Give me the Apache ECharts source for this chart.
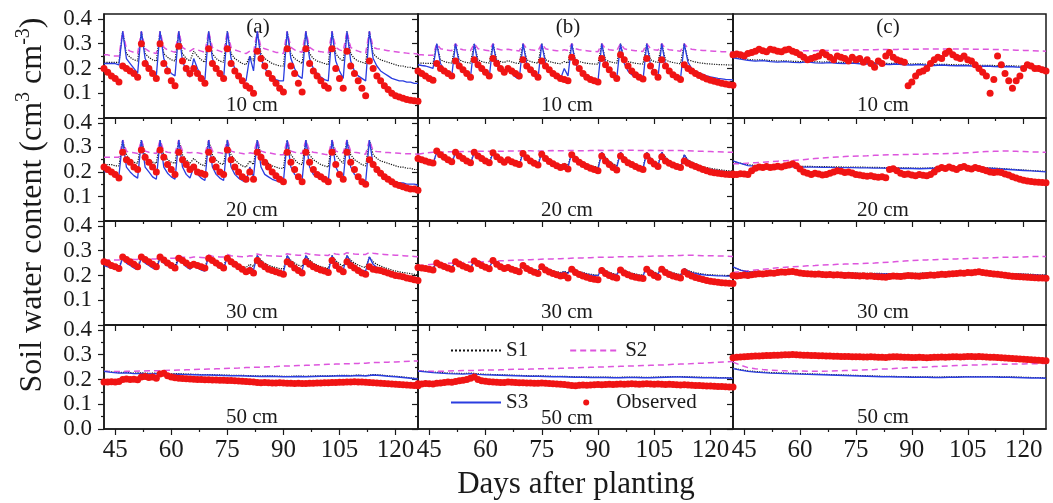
<!DOCTYPE html>
<html>
<head>
<meta charset="utf-8">
<script src="https://cdn.jsdelivr.net/npm/echarts@6/dist/echarts.min.js"></script>
<style>html,body{margin:0;padding:0;background:#fff}#chart{width:1053px;height:503px}</style>
</head>
<body>
<div id="chart"></div>
<script>
// ---------- x values (days after planting) ----------
const days = []; for (let d = 42; d <= 126; d++) days.push(d);      // daily
const days2 = []; for (let d = 42; d <= 126; d += 2) days2.push(d); // every 2nd day

// ---------- tick labels ----------
const xTickValues = [45, 60, 75, 90, 105, 120];
const xMinorValues = [52.5, 67.5, 82.5, 97.5, 112.5];
const yTickValues = [0, 0.1, 0.2, 0.3, 0.4];
const yMinorValues = [0.05, 0.15, 0.25, 0.35];
const depthLabels = ['10 cm', '20 cm', '30 cm', '50 cm'];
const panelLetters = ['(a)', '(b)', '(c)'];

// ================= (a) 10 cm =================
const a10_s1 = [
0.225,0.225,0.225,0.225,0.225,0.35,0.26,0.245,0.235,0.23,
0.35,0.26,0.245,0.235,0.23,0.35,0.26,0.245,0.235,0.23,
0.35,0.26,0.24,0.23,0.27,0.25,0.235,0.225,0.35,0.26,
0.24,0.23,0.225,0.35,0.26,0.24,0.23,0.22,0.215,0.25,
0.23,0.35,0.26,0.24,0.23,0.22,0.215,0.21,0.21,0.35,
0.26,0.24,0.23,0.22,0.35,0.26,0.24,0.23,0.225,0.22,
0.215,0.35,0.26,0.24,0.23,0.35,0.26,0.24,0.23,0.225,
0.22,0.35,0.26,0.245,0.235,0.23,0.225,0.22,0.215,0.21,
0.21,0.205,0.205,0.2,0.2];
const a10_s2 = [
0.255,0.255,0.25,0.25,0.25,0.35,0.28,0.27,0.265,0.26,
0.35,0.28,0.27,0.265,0.26,0.35,0.285,0.275,0.27,0.265,
0.35,0.285,0.275,0.27,0.28,0.275,0.27,0.265,0.35,0.285,
0.275,0.27,0.265,0.35,0.285,0.275,0.27,0.265,0.26,0.27,
0.265,0.35,0.285,0.28,0.275,0.27,0.265,0.265,0.26,0.35,
0.285,0.275,0.27,0.265,0.35,0.285,0.275,0.27,0.268,0.265,
0.262,0.35,0.285,0.275,0.27,0.35,0.285,0.275,0.27,0.265,
0.262,0.35,0.285,0.28,0.278,0.275,0.272,0.27,0.268,0.266,
0.264,0.262,0.26,0.26,0.258];
const a10_s3 = [
0.22,0.22,0.22,0.22,0.215,0.35,0.24,0.22,0.2,0.18,
0.35,0.24,0.21,0.19,0.17,0.35,0.24,0.2,0.18,0.17,
0.35,0.23,0.19,0.165,0.24,0.2,0.17,0.155,0.35,0.24,
0.2,0.17,0.16,0.35,0.24,0.2,0.17,0.155,0.15,0.25,
0.19,0.35,0.24,0.2,0.18,0.165,0.155,0.15,0.15,0.35,
0.24,0.2,0.17,0.16,0.35,0.24,0.2,0.18,0.165,0.155,
0.15,0.35,0.23,0.19,0.16,0.35,0.23,0.19,0.17,0.16,
0.15,0.35,0.24,0.21,0.19,0.18,0.17,0.16,0.155,0.15,
0.15,0.145,0.145,0.14,0.14];
const a10_obs = [
0.2,0.185,0.17,0.16,0.145,0.21,0.2,0.19,0.18,0.165,
0.3,0.22,0.2,0.18,0.16,0.3,0.22,0.19,0.15,0.13,
0.29,0.23,0.2,0.18,0.2,0.18,0.16,0.14,0.28,0.22,
0.2,0.18,0.16,0.28,0.22,0.19,0.17,0.15,0.13,0.12,
0.1,0.27,0.24,0.21,0.18,0.16,0.14,0.12,0.105,0.28,
0.21,0.18,0.14,0.105,0.28,0.22,0.19,0.17,0.15,0.13,
0.12,0.28,0.2,0.16,0.12,0.27,0.21,0.18,0.15,0.12,
0.09,0.23,0.2,0.17,0.15,0.13,0.115,0.1,0.09,0.085,
0.08,0.075,0.072,0.07,0.068];

// ================= (a) 20 cm =================
const a20_s1 = [
0.23,0.23,0.23,0.225,0.225,0.33,0.27,0.25,0.24,0.235,
0.33,0.27,0.25,0.24,0.235,0.33,0.27,0.25,0.24,0.235,
0.33,0.27,0.25,0.235,0.255,0.24,0.23,0.225,0.33,0.27,
0.25,0.235,0.23,0.33,0.27,0.25,0.235,0.225,0.22,0.245,
0.23,0.33,0.27,0.25,0.235,0.225,0.22,0.215,0.215,0.33,
0.27,0.25,0.235,0.23,0.33,0.27,0.25,0.24,0.23,0.225,
0.22,0.33,0.27,0.25,0.235,0.33,0.27,0.25,0.24,0.23,
0.225,0.33,0.27,0.255,0.245,0.24,0.235,0.23,0.225,0.22,
0.22,0.215,0.215,0.21,0.21];
const a20_s2 = [
0.26,0.26,0.26,0.26,0.26,0.33,0.285,0.28,0.278,0.275,
0.33,0.285,0.28,0.278,0.275,0.33,0.285,0.28,0.278,0.275,
0.33,0.285,0.28,0.278,0.28,0.278,0.275,0.272,0.33,0.285,
0.28,0.278,0.275,0.33,0.285,0.28,0.278,0.275,0.272,0.278,
0.275,0.33,0.285,0.28,0.278,0.275,0.272,0.27,0.27,0.33,
0.285,0.28,0.278,0.275,0.33,0.285,0.28,0.278,0.275,0.272,
0.27,0.33,0.285,0.28,0.278,0.33,0.285,0.28,0.278,0.275,
0.272,0.33,0.285,0.283,0.282,0.28,0.279,0.278,0.277,0.276,
0.275,0.274,0.274,0.273,0.272];
const a20_s3 = [
0.2,0.2,0.195,0.19,0.185,0.33,0.22,0.2,0.185,0.175,
0.33,0.22,0.2,0.18,0.17,0.33,0.22,0.195,0.18,0.17,
0.33,0.22,0.19,0.175,0.22,0.19,0.175,0.165,0.33,0.22,
0.19,0.175,0.165,0.33,0.22,0.19,0.175,0.165,0.16,0.22,
0.18,0.33,0.22,0.19,0.18,0.17,0.165,0.16,0.16,0.33,
0.22,0.19,0.175,0.165,0.33,0.22,0.19,0.18,0.17,0.165,
0.16,0.33,0.22,0.19,0.17,0.33,0.22,0.19,0.175,0.165,
0.16,0.33,0.23,0.2,0.19,0.18,0.17,0.165,0.16,0.155,
0.155,0.15,0.15,0.15,0.145];
const a20_obs = [
0.22,0.21,0.2,0.19,0.175,0.28,0.25,0.24,0.22,0.21,
0.29,0.26,0.24,0.22,0.2,0.29,0.26,0.23,0.21,0.19,
0.28,0.25,0.23,0.21,0.22,0.2,0.195,0.19,0.28,0.25,
0.22,0.2,0.19,0.29,0.25,0.22,0.2,0.18,0.17,0.2,
0.17,0.28,0.26,0.24,0.22,0.2,0.185,0.17,0.16,0.28,
0.24,0.21,0.18,0.16,0.28,0.24,0.21,0.19,0.18,0.17,
0.16,0.28,0.23,0.19,0.17,0.28,0.24,0.21,0.18,0.16,
0.15,0.25,0.23,0.21,0.195,0.18,0.17,0.16,0.15,0.145,
0.14,0.135,0.13,0.13,0.125];

// ================= (a) 30 cm =================
const a30_s1 = [
0.245,0.24,0.238,0.235,0.232,0.275,0.26,0.25,0.243,0.238,
0.275,0.26,0.25,0.243,0.238,0.275,0.26,0.25,0.243,0.238,
0.275,0.26,0.248,0.24,0.25,0.243,0.237,0.233,0.28,0.262,
0.25,0.242,0.236,0.28,0.262,0.25,0.242,0.236,0.232,0.245,
0.236,0.28,0.262,0.25,0.242,0.236,0.232,0.228,0.226,0.28,
0.262,0.25,0.242,0.236,0.28,0.262,0.25,0.242,0.236,0.232,
0.228,0.28,0.26,0.247,0.237,0.28,0.262,0.25,0.242,0.236,
0.232,0.275,0.255,0.245,0.238,0.232,0.227,0.222,0.218,0.215,
0.212,0.21,0.207,0.205,0.203];
const a30_s2 = [
0.262,0.262,0.262,0.262,0.262,0.275,0.268,0.266,0.265,0.265,
0.275,0.27,0.268,0.267,0.267,0.278,0.272,0.27,0.27,0.27,
0.28,0.275,0.273,0.272,0.275,0.274,0.273,0.272,0.283,0.278,
0.276,0.275,0.275,0.285,0.28,0.278,0.277,0.276,0.276,0.28,
0.278,0.287,0.283,0.281,0.28,0.279,0.279,0.278,0.278,0.288,
0.285,0.283,0.282,0.281,0.29,0.286,0.284,0.283,0.282,0.282,
0.281,0.29,0.287,0.285,0.284,0.292,0.289,0.287,0.286,0.285,
0.285,0.293,0.29,0.288,0.286,0.285,0.284,0.283,0.282,0.281,
0.28,0.279,0.278,0.277,0.276];
const a30_s3 = [
0.24,0.235,0.23,0.228,0.225,0.27,0.25,0.24,0.23,0.225,
0.27,0.25,0.24,0.23,0.225,0.27,0.25,0.24,0.23,0.225,
0.27,0.25,0.235,0.225,0.24,0.23,0.222,0.218,0.28,0.255,
0.24,0.23,0.222,0.28,0.255,0.24,0.23,0.222,0.218,0.235,
0.222,0.28,0.255,0.24,0.23,0.222,0.218,0.214,0.212,0.28,
0.255,0.24,0.228,0.22,0.28,0.255,0.24,0.23,0.222,0.218,
0.214,0.28,0.25,0.235,0.222,0.28,0.255,0.24,0.23,0.222,
0.218,0.275,0.245,0.232,0.225,0.218,0.212,0.208,0.205,0.202,
0.2,0.197,0.195,0.192,0.19];
const a30_obs = [
0.255,0.25,0.24,0.235,0.228,0.275,0.265,0.255,0.245,0.235,
0.275,0.265,0.255,0.245,0.235,0.275,0.262,0.25,0.24,0.23,
0.27,0.26,0.25,0.24,0.245,0.24,0.235,0.23,0.27,0.26,
0.25,0.24,0.23,0.27,0.255,0.245,0.235,0.225,0.215,0.22,
0.21,0.26,0.245,0.235,0.225,0.22,0.215,0.21,0.205,0.255,
0.245,0.23,0.22,0.21,0.255,0.245,0.235,0.228,0.222,0.218,
0.212,0.26,0.24,0.225,0.215,0.255,0.24,0.23,0.22,0.21,
0.205,0.235,0.225,0.222,0.22,0.215,0.21,0.205,0.2,0.198,
0.195,0.19,0.187,0.183,0.18];

// ================= (a) 50 cm =================
const a50_s1 = [
0.235,0.231,0.228,0.229,0.226,0.227,0.225,0.226,0.224,0.223,
0.224,0.222,0.221,0.22,0.22,0.219,0.218,0.217,0.217,0.216,
0.215,0.214,0.215,0.214,0.213,0.213,0.214,0.213,0.214,0.215,
0.215,0.216,0.217,0.216,0.218,0.216,0.22,0.218,0.215,0.213,
0.21,0.207,0.204];
const a50_s2 = [
0.233,0.232,0.232,0.233,0.233,0.234,0.235,0.235,0.236,0.237,
0.238,0.239,0.24,0.241,0.242,0.243,0.244,0.245,0.246,0.248,
0.249,0.25,0.251,0.252,0.254,0.255,0.256,0.257,0.258,0.26,
0.261,0.262,0.263,0.264,0.265,0.266,0.268,0.269,0.27,0.271,
0.272,0.274,0.275];
const a50_s3 = [
0.233,0.229,0.226,0.227,0.224,0.225,0.223,0.224,0.222,0.221,
0.222,0.22,0.219,0.218,0.218,0.217,0.216,0.215,0.215,0.214,
0.213,0.212,0.213,0.212,0.211,0.211,0.212,0.211,0.212,0.213,
0.213,0.214,0.215,0.214,0.216,0.214,0.218,0.216,0.213,0.211,
0.208,0.205,0.202];
const a50_obs = [
0.19,0.19,0.191,0.19,0.192,0.2,0.202,0.2,0.201,0.199,
0.21,0.212,0.208,0.21,0.205,0.222,0.225,0.215,0.21,0.207,
0.205,0.204,0.203,0.202,0.201,0.2,0.2,0.199,0.199,0.198,
0.198,0.197,0.197,0.196,0.196,0.195,0.194,0.193,0.192,0.191,
0.19,0.188,0.187,0.188,0.187,0.186,0.186,0.187,0.186,0.185,
0.185,0.184,0.185,0.184,0.184,0.185,0.185,0.186,0.186,0.187,
0.187,0.188,0.188,0.189,0.189,0.19,0.19,0.191,0.19,0.19,
0.189,0.188,0.187,0.186,0.185,0.184,0.183,0.182,0.181,0.18,
0.179,0.178,0.177,0.176,0.175];

// ================= (b) 10 cm =================
const b10_s1 = [
0.222,0.222,0.221,0.221,0.22,0.3,0.235,0.228,0.224,0.222,
0.3,0.235,0.228,0.224,0.222,0.3,0.235,0.228,0.224,0.222,
0.3,0.235,0.228,0.224,0.232,0.226,0.222,0.22,0.3,0.235,
0.228,0.224,0.221,0.3,0.235,0.228,0.224,0.221,0.219,0.228,
0.222,0.3,0.235,0.228,0.224,0.221,0.219,0.218,0.217,0.3,
0.235,0.228,0.224,0.221,0.3,0.235,0.228,0.224,0.221,0.219,
0.218,0.3,0.235,0.228,0.224,0.3,0.235,0.228,0.224,0.221,
0.219,0.3,0.235,0.23,0.226,0.223,0.221,0.219,0.218,0.217,
0.216,0.215,0.215,0.214,0.214];
const b10_s2 = [
0.255,0.255,0.254,0.253,0.253,0.3,0.28,0.276,0.274,0.272,
0.3,0.28,0.276,0.274,0.272,0.3,0.28,0.276,0.274,0.272,
0.3,0.28,0.276,0.274,0.278,0.275,0.273,0.271,0.3,0.28,
0.276,0.274,0.272,0.3,0.28,0.276,0.274,0.272,0.27,0.276,
0.273,0.3,0.28,0.276,0.274,0.272,0.27,0.269,0.268,0.3,
0.28,0.276,0.274,0.272,0.3,0.28,0.276,0.274,0.272,0.27,
0.269,0.3,0.28,0.276,0.274,0.3,0.28,0.276,0.274,0.272,
0.27,0.3,0.282,0.278,0.276,0.274,0.273,0.272,0.271,0.27,
0.269,0.268,0.268,0.267,0.266];
const b10_s3 = [
0.215,0.212,0.21,0.205,0.2,0.3,0.22,0.195,0.18,0.17,
0.3,0.22,0.195,0.175,0.165,0.3,0.22,0.19,0.175,0.165,
0.3,0.22,0.19,0.175,0.2,0.18,0.165,0.158,0.3,0.22,
0.19,0.17,0.16,0.3,0.22,0.19,0.175,0.165,0.158,0.2,
0.17,0.3,0.22,0.19,0.175,0.165,0.158,0.153,0.15,0.3,
0.22,0.19,0.17,0.16,0.3,0.22,0.19,0.175,0.165,0.158,
0.153,0.3,0.215,0.185,0.165,0.3,0.215,0.19,0.175,0.165,
0.158,0.3,0.225,0.2,0.19,0.182,0.176,0.17,0.166,0.163,
0.16,0.158,0.156,0.155,0.154];
const b10_obs = [
0.19,0.18,0.17,0.16,0.152,0.22,0.2,0.19,0.18,0.17,
0.23,0.21,0.195,0.18,0.165,0.235,0.215,0.2,0.185,0.17,
0.24,0.22,0.2,0.185,0.2,0.19,0.18,0.17,0.235,0.21,
0.195,0.18,0.165,0.23,0.21,0.195,0.18,0.17,0.16,0.155,
0.15,0.245,0.225,0.2,0.18,0.165,0.155,0.15,0.145,0.24,
0.215,0.195,0.175,0.16,0.255,0.235,0.21,0.19,0.175,0.165,
0.158,0.24,0.21,0.185,0.165,0.235,0.21,0.19,0.175,0.165,
0.155,0.215,0.2,0.19,0.18,0.172,0.165,0.158,0.152,0.148,
0.144,0.14,0.137,0.134,0.132];

// ================= (b) 20 cm =================
const b20_s1 = [
0.25,0.247,0.244,0.241,0.238,0.28,0.265,0.255,0.247,0.24,
0.28,0.265,0.255,0.247,0.24,0.28,0.265,0.255,0.247,0.24,
0.28,0.264,0.252,0.243,0.25,0.243,0.237,0.233,0.28,0.262,
0.25,0.24,0.233,0.28,0.262,0.25,0.24,0.232,0.227,0.235,
0.227,0.28,0.262,0.25,0.24,0.232,0.227,0.222,0.219,0.28,
0.26,0.245,0.234,0.226,0.28,0.26,0.246,0.236,0.229,0.224,
0.22,0.28,0.257,0.242,0.231,0.28,0.26,0.246,0.236,0.229,
0.224,0.27,0.25,0.24,0.233,0.227,0.222,0.218,0.215,0.212,
0.21,0.208,0.206,0.205,0.204];
const b20_s2 = [
0.272,0.278,0.28,0.28,0.282,0.282,0.283,0.283,0.284,0.284,
0.285,0.284,0.285,0.285,0.286,0.286,0.285,0.286,0.287,0.286,
0.287,0.287,0.286,0.287,0.288,0.287,0.288,0.287,0.288,0.288,
0.287,0.288,0.287,0.288,0.287,0.287,0.286,0.285,0.284,0.283,
0.282,0.281,0.28];
const b20_s3 = [
0.245,0.242,0.238,0.235,0.232,0.28,0.262,0.25,0.24,0.232,
0.28,0.262,0.25,0.24,0.232,0.28,0.262,0.25,0.24,0.232,
0.28,0.26,0.246,0.236,0.245,0.236,0.23,0.225,0.28,0.258,
0.243,0.232,0.225,0.28,0.258,0.243,0.232,0.224,0.218,0.23,
0.218,0.28,0.258,0.243,0.232,0.224,0.218,0.213,0.21,0.28,
0.255,0.238,0.226,0.218,0.28,0.255,0.24,0.23,0.222,0.216,
0.212,0.28,0.252,0.236,0.224,0.28,0.255,0.24,0.23,0.222,
0.216,0.27,0.245,0.235,0.228,0.222,0.217,0.213,0.21,0.207,
0.205,0.203,0.201,0.2,0.199];
const b20_obs = [
0.255,0.25,0.245,0.24,0.236,0.285,0.27,0.26,0.25,0.242,
0.28,0.265,0.255,0.245,0.238,0.28,0.265,0.255,0.245,0.238,
0.278,0.262,0.25,0.24,0.25,0.242,0.235,0.23,0.275,0.258,
0.245,0.235,0.228,0.272,0.255,0.243,0.233,0.225,0.218,0.222,
0.212,0.27,0.252,0.24,0.23,0.222,0.215,0.21,0.205,0.265,
0.245,0.23,0.218,0.208,0.265,0.25,0.238,0.23,0.222,0.215,
0.21,0.265,0.245,0.232,0.222,0.262,0.245,0.235,0.228,0.222,
0.218,0.245,0.235,0.228,0.222,0.216,0.21,0.205,0.2,0.197,
0.195,0.193,0.191,0.19,0.189];

// ================= (b) 30 cm =================
const b30_s1 = [
0.237,0.235,0.233,0.231,0.229,0.255,0.247,0.24,0.235,0.231,
0.258,0.25,0.242,0.236,0.232,0.26,0.252,0.244,0.238,0.233,
0.26,0.25,0.24,0.234,0.237,0.232,0.228,0.224,0.245,0.235,
0.228,0.224,0.22,0.242,0.232,0.225,0.219,0.215,0.212,0.217,
0.211,0.235,0.224,0.217,0.212,0.208,0.205,0.203,0.201,0.232,
0.22,0.213,0.208,0.204,0.232,0.222,0.215,0.21,0.206,0.203,
0.201,0.235,0.222,0.214,0.208,0.235,0.224,0.217,0.211,0.207,
0.203,0.228,0.22,0.215,0.211,0.208,0.206,0.204,0.203,0.202,
0.201,0.201,0.2,0.2,0.2];
const b30_s2 = [
0.24,0.242,0.245,0.247,0.249,0.251,0.252,0.254,0.255,0.256,
0.258,0.259,0.26,0.262,0.262,0.264,0.265,0.267,0.267,0.268,
0.269,0.271,0.271,0.272,0.274,0.274,0.274,0.276,0.276,0.276,
0.277,0.278,0.279,0.279,0.28,0.281,0.282,0.281,0.28,0.28,
0.279,0.278,0.277];
const b30_s3 = [
0.235,0.233,0.231,0.229,0.227,0.255,0.245,0.238,0.233,0.229,
0.258,0.248,0.24,0.234,0.229,0.26,0.25,0.242,0.236,0.231,
0.26,0.248,0.238,0.231,0.235,0.229,0.225,0.221,0.245,0.233,
0.226,0.221,0.217,0.242,0.23,0.222,0.216,0.212,0.209,0.215,
0.208,0.235,0.222,0.214,0.209,0.205,0.202,0.2,0.198,0.232,
0.218,0.21,0.205,0.201,0.232,0.22,0.212,0.207,0.203,0.2,
0.198,0.235,0.22,0.211,0.205,0.235,0.222,0.214,0.208,0.204,
0.2,0.228,0.218,0.212,0.208,0.205,0.203,0.201,0.2,0.199,
0.198,0.198,0.197,0.197,0.196];
const b30_obs = [
0.232,0.23,0.228,0.225,0.222,0.25,0.242,0.236,0.23,0.225,
0.255,0.246,0.238,0.232,0.226,0.258,0.248,0.24,0.233,0.227,
0.26,0.245,0.235,0.228,0.232,0.225,0.22,0.215,0.24,0.228,
0.22,0.213,0.208,0.235,0.222,0.214,0.208,0.203,0.198,0.2,
0.19,0.225,0.212,0.204,0.198,0.193,0.188,0.185,0.183,0.22,
0.208,0.2,0.194,0.19,0.222,0.21,0.203,0.197,0.193,0.19,
0.188,0.225,0.21,0.2,0.193,0.225,0.212,0.204,0.198,0.194,
0.19,0.215,0.205,0.198,0.192,0.188,0.184,0.18,0.177,0.175,
0.173,0.171,0.17,0.169,0.168];

// ================= (b) 50 cm =================
const b50_s1 = [
0.236,0.233,0.23,0.228,0.226,0.225,0.224,0.226,0.223,0.221,
0.22,0.219,0.218,0.217,0.216,0.215,0.215,0.214,0.213,0.213,
0.212,0.211,0.211,0.21,0.21,0.21,0.209,0.209,0.21,0.21,
0.209,0.209,0.21,0.211,0.212,0.212,0.211,0.21,0.209,0.209,
0.208,0.208,0.207];
const b50_s2 = [
0.234,0.233,0.233,0.233,0.234,0.235,0.236,0.236,0.237,0.238,
0.238,0.239,0.24,0.241,0.241,0.242,0.243,0.244,0.244,0.245,
0.246,0.247,0.248,0.249,0.25,0.251,0.252,0.253,0.254,0.255,
0.256,0.257,0.258,0.259,0.261,0.262,0.263,0.265,0.266,0.268,
0.27,0.271,0.273];
const b50_s3 = [
0.234,0.231,0.228,0.226,0.224,0.223,0.222,0.224,0.221,0.219,
0.218,0.217,0.216,0.215,0.214,0.213,0.213,0.212,0.211,0.211,
0.21,0.209,0.209,0.208,0.208,0.208,0.207,0.207,0.208,0.208,
0.207,0.207,0.208,0.209,0.21,0.21,0.209,0.208,0.207,0.207,
0.206,0.206,0.205];
const b50_obs = [
0.183,0.182,0.184,0.183,0.182,0.185,0.186,0.188,0.19,0.189,
0.192,0.195,0.197,0.2,0.205,0.21,0.2,0.195,0.193,0.191,
0.19,0.189,0.188,0.188,0.19,0.189,0.188,0.187,0.187,0.186,
0.186,0.185,0.185,0.186,0.185,0.184,0.183,0.182,0.181,0.18,
0.178,0.176,0.175,0.177,0.178,0.177,0.178,0.179,0.18,0.179,
0.18,0.181,0.18,0.181,0.182,0.181,0.182,0.183,0.182,0.181,
0.182,0.183,0.182,0.181,0.182,0.181,0.18,0.181,0.18,0.179,
0.178,0.179,0.178,0.177,0.176,0.176,0.175,0.174,0.174,0.173,
0.172,0.172,0.171,0.17,0.17];

// ================= (c) 10 cm =================
const c10_s1 = [
0.246,0.241,0.237,0.234,0.235,0.232,0.23,0.231,0.229,0.228,
0.23,0.227,0.226,0.227,0.225,0.224,0.225,0.223,0.222,0.223,
0.221,0.22,0.221,0.219,0.218,0.219,0.217,0.216,0.217,0.216,
0.215,0.215,0.214,0.213,0.213,0.212,0.211,0.211,0.21,0.209,
0.207,0.205,0.203];
const c10_s2 = [
0.256,0.26,0.263,0.265,0.267,0.268,0.269,0.27,0.271,0.271,
0.272,0.272,0.273,0.273,0.274,0.274,0.275,0.275,0.276,0.276,
0.277,0.277,0.277,0.278,0.278,0.278,0.279,0.279,0.279,0.279,
0.279,0.279,0.278,0.278,0.278,0.277,0.276,0.275,0.274,0.273,
0.272,0.271,0.27];
const c10_s3 = [
0.243,0.238,0.233,0.23,0.232,0.228,0.226,0.228,0.225,0.224,
0.227,0.223,0.222,0.224,0.221,0.22,0.222,0.219,0.218,0.22,
0.217,0.216,0.218,0.215,0.214,0.216,0.213,0.212,0.214,0.212,
0.211,0.212,0.21,0.209,0.21,0.208,0.207,0.208,0.206,0.205,
0.204,0.202,0.2];
const c10_obs = [
0.255,0.258,0.255,0.25,0.26,0.265,0.27,0.278,0.272,0.268,
0.278,0.275,0.27,0.268,0.275,0.278,0.27,0.265,0.255,0.245,
0.235,0.24,0.245,0.25,0.265,0.255,0.245,0.235,0.25,0.245,
0.24,0.23,0.245,0.235,0.24,0.225,0.235,0.22,0.205,0.23,
0.22,0.25,0.265,0.245,0.235,0.23,0.225,0.13,0.145,0.17,
0.185,0.19,0.2,0.22,0.235,0.245,0.24,0.26,0.27,0.255,
0.245,0.24,0.25,0.235,0.23,0.215,0.2,0.185,0.17,0.1,
0.155,0.25,0.215,0.18,0.15,0.12,0.15,0.17,0.2,0.215,
0.21,0.2,0.2,0.195,0.19];

// ================= (c) 20 cm =================
const c20_s1 = [
0.242,0.236,0.229,0.227,0.226,0.225,0.225,0.224,0.224,0.223,
0.223,0.222,0.222,0.221,0.221,0.22,0.22,0.22,0.219,0.219,
0.218,0.218,0.217,0.217,0.216,0.216,0.216,0.217,0.218,0.218,
0.219,0.219,0.219,0.218,0.217,0.216,0.214,0.212,0.21,0.208,
0.206,0.204,0.202];
const c20_s2 = [
0.233,0.234,0.236,0.238,0.24,0.242,0.244,0.246,0.247,0.249,
0.252,0.255,0.257,0.259,0.261,0.263,0.264,0.265,0.266,0.268,
0.269,0.27,0.27,0.271,0.272,0.272,0.273,0.274,0.274,0.275,
0.276,0.277,0.279,0.281,0.283,0.284,0.285,0.285,0.284,0.283,
0.282,0.281,0.28];
const c20_s3 = [
0.245,0.235,0.226,0.224,0.223,0.222,0.222,0.221,0.221,0.22,
0.22,0.22,0.219,0.219,0.218,0.218,0.218,0.217,0.217,0.216,
0.216,0.215,0.215,0.214,0.214,0.213,0.214,0.215,0.216,0.216,
0.217,0.218,0.217,0.216,0.215,0.214,0.212,0.21,0.208,0.206,
0.204,0.202,0.2];
const c20_obs = [
0.192,0.19,0.193,0.192,0.19,0.205,0.215,0.22,0.218,0.222,
0.218,0.22,0.223,0.22,0.225,0.228,0.233,0.225,0.212,0.2,
0.195,0.19,0.195,0.192,0.188,0.19,0.195,0.2,0.205,0.203,
0.198,0.2,0.196,0.19,0.188,0.185,0.182,0.185,0.18,0.178,
0.18,0.176,0.21,0.213,0.205,0.195,0.19,0.192,0.188,0.185,
0.19,0.187,0.185,0.19,0.2,0.212,0.218,0.214,0.22,0.215,
0.21,0.218,0.222,0.215,0.212,0.218,0.214,0.21,0.205,0.2,
0.198,0.2,0.198,0.192,0.188,0.18,0.175,0.17,0.166,0.163,
0.161,0.159,0.158,0.157,0.156];

// ================= (c) 30 cm =================
const c30_s1 = [
0.232,0.222,0.216,0.214,0.213,0.214,0.213,0.214,0.213,0.213,
0.212,0.212,0.211,0.211,0.21,0.21,0.21,0.209,0.209,0.209,
0.208,0.208,0.208,0.208,0.209,0.209,0.21,0.21,0.211,0.211,
0.212,0.212,0.211,0.212,0.211,0.21,0.209,0.208,0.207,0.206,
0.205,0.203,0.202];
const c30_s2 = [
0.212,0.216,0.219,0.222,0.225,0.228,0.231,0.233,0.235,0.237,
0.239,0.24,0.242,0.243,0.245,0.246,0.247,0.248,0.249,0.25,
0.252,0.254,0.256,0.258,0.26,0.262,0.263,0.264,0.265,0.266,
0.267,0.268,0.269,0.27,0.271,0.272,0.273,0.274,0.274,0.275,
0.276,0.277,0.277];
const c30_s3 = [
0.235,0.222,0.214,0.212,0.211,0.212,0.211,0.213,0.212,0.211,
0.21,0.21,0.209,0.209,0.208,0.208,0.208,0.207,0.207,0.207,
0.206,0.206,0.206,0.206,0.207,0.207,0.208,0.208,0.209,0.209,
0.21,0.21,0.209,0.21,0.209,0.208,0.207,0.206,0.205,0.204,
0.203,0.201,0.2];
const c30_obs = [
0.2,0.198,0.2,0.202,0.2,0.203,0.205,0.207,0.206,0.208,
0.21,0.209,0.212,0.214,0.213,0.215,0.216,0.213,0.21,0.208,
0.207,0.206,0.205,0.206,0.204,0.203,0.204,0.202,0.203,0.202,
0.2,0.201,0.2,0.199,0.198,0.199,0.197,0.198,0.196,0.195,
0.194,0.193,0.196,0.198,0.197,0.196,0.198,0.2,0.199,0.198,
0.197,0.199,0.2,0.202,0.201,0.203,0.205,0.204,0.206,0.207,
0.208,0.21,0.209,0.212,0.211,0.213,0.215,0.212,0.21,0.208,
0.206,0.205,0.203,0.201,0.199,0.197,0.196,0.195,0.194,0.193,
0.192,0.191,0.19,0.19,0.189];

// ================= (c) 50 cm =================
const c50_s1 = [
0.246,0.24,0.235,0.232,0.23,0.228,0.227,0.226,0.225,0.224,
0.223,0.222,0.221,0.22,0.219,0.218,0.217,0.216,0.215,0.214,
0.213,0.213,0.212,0.212,0.211,0.211,0.211,0.21,0.21,0.211,
0.211,0.212,0.212,0.212,0.212,0.212,0.211,0.211,0.21,0.209,
0.208,0.208,0.207];
const c50_s2 = [
0.27,0.258,0.248,0.243,0.24,0.238,0.236,0.235,0.234,0.234,
0.233,0.233,0.233,0.234,0.235,0.236,0.237,0.238,0.239,0.24,
0.242,0.243,0.245,0.246,0.248,0.249,0.25,0.252,0.253,0.255,
0.256,0.257,0.258,0.259,0.26,0.261,0.261,0.262,0.263,0.263,
0.264,0.264,0.265];
const c50_s3 = [
0.244,0.238,0.233,0.23,0.228,0.226,0.225,0.224,0.223,0.222,
0.221,0.22,0.219,0.218,0.217,0.216,0.215,0.214,0.213,0.212,
0.211,0.211,0.21,0.21,0.209,0.209,0.209,0.208,0.208,0.209,
0.209,0.21,0.21,0.21,0.21,0.21,0.209,0.209,0.208,0.207,
0.206,0.206,0.205];
const c50_obs = [
0.288,0.29,0.291,0.292,0.293,0.294,0.295,0.295,0.296,0.297,
0.297,0.298,0.298,0.299,0.3,0.3,0.301,0.3,0.299,0.298,
0.298,0.297,0.297,0.296,0.296,0.295,0.295,0.294,0.294,0.293,
0.293,0.293,0.292,0.292,0.292,0.291,0.291,0.292,0.291,0.29,
0.29,0.289,0.291,0.292,0.292,0.291,0.29,0.29,0.289,0.289,
0.29,0.289,0.288,0.289,0.29,0.29,0.291,0.29,0.291,0.292,
0.292,0.291,0.292,0.293,0.293,0.292,0.293,0.292,0.291,0.29,
0.29,0.289,0.288,0.287,0.286,0.285,0.284,0.283,0.282,0.281,
0.28,0.279,0.278,0.277,0.276];

// ---------- panel table (row, col) ----------
const panels = [
  {row:0,col:0,s1:a10_s1,s2:a10_s2,s3:a10_s3,obs:a10_obs},
  {row:0,col:1,s1:b10_s1,s2:b10_s2,s3:b10_s3,obs:b10_obs},
  {row:0,col:2,s1:c10_s1,s2:c10_s2,s3:c10_s3,obs:c10_obs},
  {row:1,col:0,s1:a20_s1,s2:a20_s2,s3:a20_s3,obs:a20_obs},
  {row:1,col:1,s1:b20_s1,s2:b20_s2,s3:b20_s3,obs:b20_obs},
  {row:1,col:2,s1:c20_s1,s2:c20_s2,s3:c20_s3,obs:c20_obs},
  {row:2,col:0,s1:a30_s1,s2:a30_s2,s3:a30_s3,obs:a30_obs},
  {row:2,col:1,s1:b30_s1,s2:b30_s2,s3:b30_s3,obs:b30_obs},
  {row:2,col:2,s1:c30_s1,s2:c30_s2,s3:c30_s3,obs:c30_obs},
  {row:3,col:0,s1:a50_s1,s2:a50_s2,s3:a50_s3,obs:a50_obs},
  {row:3,col:1,s1:b50_s1,s2:b50_s2,s3:b50_s3,obs:b50_obs},
  {row:3,col:2,s1:c50_s1,s2:c50_s2,s3:c50_s3,obs:c50_obs}
];

function pairs(vals) {
  const xs = vals.length === days.length ? days : days2;
  if (vals.length !== days.length && vals.length !== days2.length) console.error('bad length', vals.length);
  return vals.map((v, i) => [xs[i], v]);
}

// ---------- layout / style ----------
const FONT = 'Liberation Serif';
const INK = '#1a1a1a';
const colLeft = [104, 418, 733], colWidth = [314, 315, 313];
const rowTop = [14, 118, 221, 325], rowHeight = [104, 103, 104, 104];
const depthX = [252, 567, 883], depthY = [105, 210, 312, 417];
const letterX = [258, 568, 888];

const grids = [], xAxes = [], yAxes = [], series = [], graphics = [];

panels.forEach((p, g) => {
  grids.push({
    left: colLeft[p.col], top: rowTop[p.row], width: colWidth[p.col], height: rowHeight[p.row],
    show: true, borderColor: INK, borderWidth: 1.5, backgroundColor: 'transparent',
    containLabel: false, outerBoundsMode: 'none'
  });
  const bottomRow = p.row === 3, firstCol = p.col === 0;
  xAxes.push({
    type: 'value', gridIndex: g, min: 42, max: 126, position: 'bottom',
    axisLine: {show: true, onZero: false, lineStyle: {color: INK, width: 1.5}},
    axisTick: {show: true, inside: false, length: 6, customValues: xTickValues, lineStyle: {color: INK, width: 1.2}},
    axisLabel: {show: bottomRow, customValues: xTickValues, fontSize: 25, fontFamily: FONT, color: INK, margin: 9},
    splitLine: {show: false}
  });
  xAxes.push({
    type: 'value', gridIndex: g, min: 42, max: 126, position: 'bottom',
    axisLine: {show: false, onZero: false},
    axisTick: {show: true, inside: false, length: 3, customValues: xMinorValues, lineStyle: {color: INK, width: 1.2}},
    axisLabel: {show: false, customValues: xMinorValues},
    splitLine: {show: false}
  });
  const yLabelVals = bottomRow ? yTickValues : yTickValues.slice(1);
  yAxes.push({
    type: 'value', gridIndex: g, min: 0, max: 0.42, position: 'left',
    axisLine: {show: true, onZero: false, lineStyle: {color: INK, width: 1.5}},
    axisTick: {show: true, inside: false, length: 6, customValues: yTickValues, lineStyle: {color: INK, width: 1.2}},
    axisLabel: {show: firstCol, customValues: yLabelVals, formatter: v => v.toFixed(1),
                fontSize: 23, fontFamily: FONT, color: INK, margin: 12},
    splitLine: {show: false}
  });
  yAxes.push({
    type: 'value', gridIndex: g, min: 0, max: 0.42, position: 'left',
    axisLine: {show: false, onZero: false},
    axisTick: {show: true, inside: false, length: 3, customValues: yMinorValues, lineStyle: {color: INK, width: 1.2}},
    axisLabel: {show: false, customValues: yMinorValues},
    splitLine: {show: false}
  });
  const xi = 2 * g, yi = 2 * g;
  series.push(
    {name: 'S1', type: 'line', xAxisIndex: xi, yAxisIndex: yi, data: pairs(p.s1), symbol: 'none', showSymbol: false,
     lineStyle: {color: '#111', width: 1.2, type: 'dotted'}, itemStyle: {color: '#111'}, z: 3, silent: true},
    {name: 'S2', type: 'line', xAxisIndex: xi, yAxisIndex: yi, data: pairs(p.s2), symbol: 'none', showSymbol: false,
     lineStyle: {color: '#dd55dd', width: 1.5, type: [6, 4]}, itemStyle: {color: '#dd55dd'}, z: 3, silent: true},
    {name: 'S3', type: 'line', xAxisIndex: xi, yAxisIndex: yi, data: pairs(p.s3), symbol: 'none', showSymbol: false,
     lineStyle: {color: '#2a3de0', width: 1.3}, itemStyle: {color: '#2a3de0'}, z: 4, silent: true},
    {name: 'Observed', type: 'scatter', xAxisIndex: xi, yAxisIndex: yi, data: pairs(p.obs), symbol: 'circle',
     symbolSize: 7, itemStyle: {color: '#f01414', opacity: 1}, z: 5, silent: true}
  );
  graphics.push({
    type: 'text', x: depthX[p.col], y: depthY[p.row] + (p.row === 3 && p.col === 1 ? 1 : 0),
    style: {text: depthLabels[p.row], fontSize: 21, fontFamily: FONT, fill: INK, align: 'center', verticalAlign: 'middle'}
  });
});

panelLetters.forEach((t, c) => graphics.push({
  type: 'text', x: letterX[c], y: 27,
  style: {text: t, fontSize: 21, fontFamily: FONT, fill: INK, align: 'center', verticalAlign: 'middle'}
}));

graphics.push({
  type: 'text', x: 576, y: 485,
  style: {text: 'Days after planting', fontSize: 31, fontFamily: FONT, fill: INK, align: 'center', verticalAlign: 'middle'}
});
graphics.push({
  type: 'text', x: 31, y: 205, rotation: Math.PI / 2,
  style: {
    text: '{t|Soil water content (cm}{s|3}{t| cm}{s|-3}{t|)}',
    fontFamily: FONT, fill: INK, align: 'center', verticalAlign: 'middle',
    rich: {
      t: {fontSize: 32, fontFamily: FONT, fill: INK, verticalAlign: 'bottom', lineHeight: 35},
      s: {fontSize: 20, fontFamily: FONT, fill: INK, verticalAlign: 'top', lineHeight: 35}
    }
  }
});

const legendText = {fontSize: 21, fontFamily: FONT, color: INK};
const option = {
  animation: false,
  backgroundColor: '#fff',
  grid: grids,
  xAxis: xAxes,
  yAxis: yAxes,
  legend: [
    {data: [{name: 'S1', itemStyle: {opacity: 0}}, {name: 'S2', itemStyle: {opacity: 0}}],
     left: 450, top: 340, orient: 'horizontal', itemWidth: 50, itemHeight: 8, itemGap: 41,
     textStyle: legendText, selectedMode: false, padding: 0},
    {data: [{name: 'S3', itemStyle: {opacity: 0}}, {name: 'Observed', icon: 'circle'}],
     left: 450, top: 392, orient: 'horizontal', itemWidth: 50, itemHeight: 6, itemGap: 55,
     textStyle: legendText, selectedMode: false, padding: 0}
  ],
  series: series,
  graphic: graphics
};

const chart = echarts.init(document.getElementById('chart'), null, {renderer: 'canvas'});
chart.setOption(option);
</script>
</body>
</html>
